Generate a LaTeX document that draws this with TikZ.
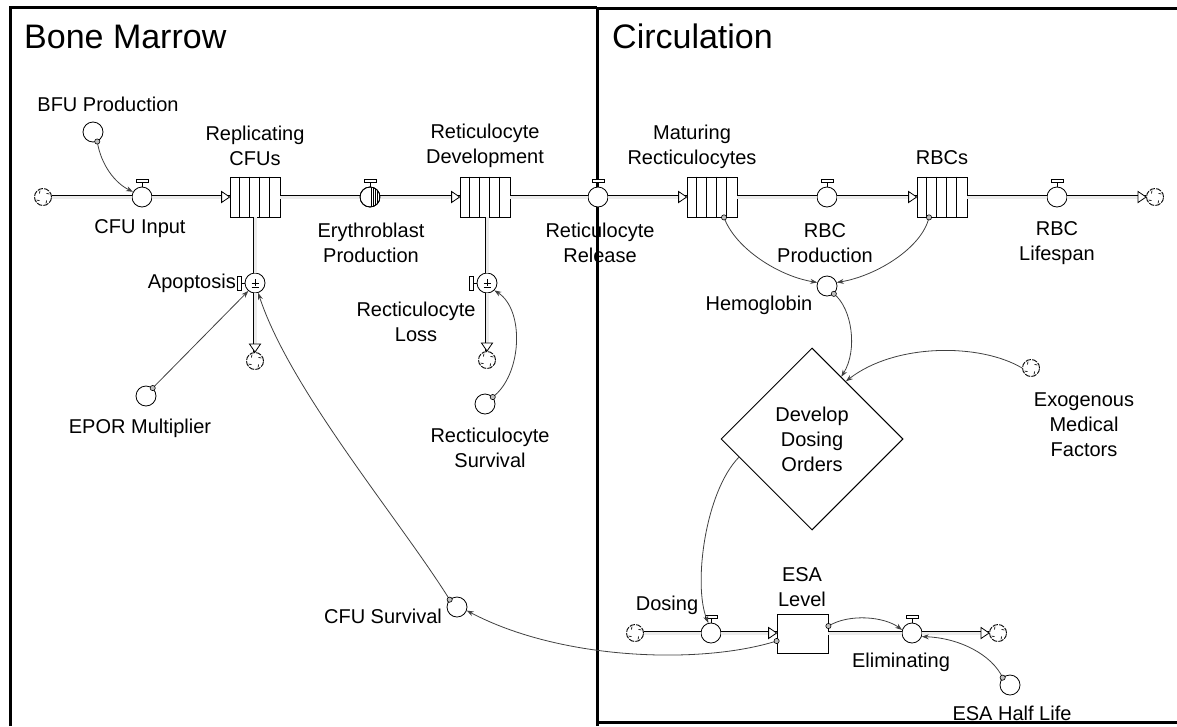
\documentclass[tikz,border=0pt]{standalone}
\usepackage{fontspec}
\setmainfont{Liberation Sans}
\usetikzlibrary{shapes.geometric,arrows.meta,calc}
\newcommand\vhandle[1]{\draw[line width=0.8pt] (#1.north) -- ++(0,-4);
  \draw[line width=0.8pt, fill=white] ($(#1.north)+(-6,-4)$) rectangle ++(12,-3.5);}
\newcommand\shandle[1]{\draw[line width=0.8pt] (#1.west) -- ++(-3.5,0);
  \draw[line width=0.8pt, fill=white] ($(#1.west)+(-3.5,-7)$) rectangle ++(-3.5,14);}
\newcommand\rtip[1]{\draw[line width=0.8pt, fill=white] (#1) -- ++(-8,-5.5) -- ++(0,11) -- cycle;}
\newcommand\dtip[1]{\draw[line width=0.8pt, fill=white] (#1) -- ++(-5.5,-8) -- ++(11,0) -- cycle;}
\newcommand\conveyor[1]{\foreach \i in {10,20,30,40} {\draw[line width=0.8pt] ($(#1.north west)+(\i,0)$) -- ($(#1.south west)+(\i,0)$);}}
\newcommand\pmsign[1]{\draw[line width=0.6pt] ($(#1.center)+(-3.5,0)$) -- ++(7,0) ($(#1.center)+(0,-4)$) -- ++(0,7) ($(#1.center)+(-3.5,4)$) -- ++(7,0);}
\newcommand\tailc[1]{\draw[line width=0.6pt, fill=black!25] (#1) circle (2.6pt);}
\newcommand\cloudin[1]{\foreach \a in {45,135,225,315} {\draw[line width=0.7pt] ($(#1.center)+(\a:5pt)$) arc[start angle=\a+180, end angle=\a+250, radius=2.5pt];}}
\begin{document}
\begin{tikzpicture}[x=1pt,y=-1pt,
  lab/.style={font=\fontsize{20}{25}\selectfont, align=center, inner sep=0pt},
  ttl/.style={font=\fontsize{34}{40}\selectfont, inner sep=0pt, anchor=base west},
  valve/.style={circle, draw, fill=white, minimum size=20pt, inner sep=0pt, line width=0.8pt},
  aux/.style={circle, draw, fill=white, minimum size=20pt, inner sep=0pt, line width=0.8pt},
  cloudnode/.style={draw, circle, minimum size=17pt, inner sep=0pt, line width=0.9pt, dash pattern=on 5.5pt off 1.2pt},
  stock/.style={draw, fill=white, minimum width=50pt, minimum height=40pt, inner sep=0pt, line width=0.8pt},
  pipe/.style={draw=black, line width=0.7pt, double=black!8, double distance=3pt},
  info/.style={draw=black!75, line width=0.8pt, -{Stealth[length=7pt,width=5pt]}},
  frame/.style={line width=3pt},
]
\useasboundingbox (0,0) rectangle (1177,726);
% frames
\draw[frame] (10,726) -- (10,7) -- (597,7);
\draw[frame] (597,726) -- (597,8) -- (1177,8);
\draw[frame] (597,722) -- (1177,722);
\node[ttl] (tbm) at (24,48) {Bone Marrow};
\node[ttl] (tci) at (612,48) {Circulation};

% main chain
\node[cloudnode] (c0) at (43,197) {};
\node[valve] (cfuin) at (142,197) {};
\node[stock] (rcfu) at (255,197) {};
\node[valve] (ery) at (370,197) {};
\node[stock] (rdev) at (485,197) {};
\node[valve] (rrel) at (598,197) {};
\node[stock] (mat) at (712,197) {};
\node[valve] (rbcp) at (827,197) {};
\node[stock] (rbcs) at (942,197) {};
\node[valve] (rbcl) at (1057,197) {};
\node[cloudnode] (c1) at (1155,197) {};

% side flows
\node[valve] (apop) at (255,283) {};
\node[cloudnode] (c2) at (255,361) {};
\node[valve] (rloss) at (487,283) {};
\node[cloudnode] (c3) at (487,360) {};

% auxiliaries
\node[aux] (bfu) at (93,132) {};
\node[aux] (epor) at (146,396) {};
\node[aux] (rsurv) at (485,404) {};
\node[aux] (cfusurv) at (457,607) {};
\node[aux] (hemo) at (827,286) {};
\node[cloudnode] (exo) at (1031,368) {};
\node[draw, diamond, aspect=1, minimum width=182pt, minimum height=182pt, inner sep=0pt, line width=1pt, lab] (ddo) at (812,439) {Develop\\Dosing\\Orders};
\node[aux] (esahl) at (1010,685) {};

% ESA chain
\node[cloudnode] (c4) at (635,633) {};
\node[valve] (dosing) at (711,633) {};
\node[draw, fill=white, minimum width=51pt, minimum height=39pt, inner sep=0pt, line width=0.8pt] (esa) at (802.5,634) {};
\node[valve] (elim) at (912,633) {};
\node[cloudnode] (c5) at (998,633) {};

\cloudin{c0}
\cloudin{c1}
\cloudin{c2}
\cloudin{c3}
\cloudin{c4}
\cloudin{c5}
\cloudin{exo}

% pipes
\draw[pipe] (c0) -- (cfuin);
\draw[pipe] (cfuin) -- (rcfu);
\draw[pipe] (rcfu) -- (ery);
\draw[pipe] (ery) -- (rdev);
\draw[pipe] (rdev) -- (rrel);
\draw[pipe] (rrel) -- (mat);
\draw[pipe] (mat) -- (rbcp);
\draw[pipe] (rbcp) -- (rbcs);
\draw[pipe] (rbcs) -- (rbcl);
\draw[pipe] (rbcl) -- (c1);
\draw[pipe] (rcfu.south) -- (apop);
\draw[pipe] (apop) -- (c2);
\draw[pipe] (rdev.south -| rloss) -- (rloss);
\draw[pipe] (rloss) -- (c3);
\draw[pipe] (c4) -- (dosing);
\draw[pipe] (dosing) -- (dosing -| esa.west);
\draw[pipe] (esa.east |- elim) -- (elim);
\draw[pipe] (elim) -- (c5);

\rtip{rcfu.west}
\rtip{rdev.west}
\rtip{mat.west}
\rtip{rbcs.west}
\rtip{c1.west}
\rtip{esa.west |- dosing}
\rtip{c5.west}
\dtip{c2.north}
\dtip{c3.north}

\conveyor{rcfu}
\conveyor{rdev}
\conveyor{mat}
\conveyor{rbcs}

% valve handles
\vhandle{cfuin}
\vhandle{ery}
\vhandle{rrel}
\vhandle{rbcp}
\vhandle{rbcl}
\vhandle{dosing}
\vhandle{elim}
\shandle{apop}
\shandle{rloss}
\pmsign{apop}
\pmsign{rloss}
\begin{scope}
  \clip (ery.center) circle (10pt);
  \clip ($(ery.center)+(0,-11)$) rectangle ($(ery.center)+(11,11)$);
  \foreach \i in {1,3,5,7,9} {\draw[line width=1pt] ($(ery.center)+(\i,-11)$) -- ++(0,22);}
\end{scope}
\draw[line width=0.8pt] (ery) circle (10pt);

% information connectors
\draw[info] (bfu.-66) .. controls (101,165) and (115,183) .. (cfuin.150);
\tailc{bfu.-66}
\draw[info] (epor.50) -- (apop.-130);
\tailc{epor.50}
\draw[info] (cfusurv.135) .. controls (400,520) and (290,390) .. (apop.-72);
\tailc{cfusurv.135}
\coordinate (esaL) at ($(esa.west)+(0,7)$);
\draw[info] (esaL) .. controls (700,665) and (560,660) .. (cfusurv.-20);
\tailc{esaL}
\draw[info] (rsurv.42) .. controls (522,375) and (525,310) .. (rloss.-45);
\tailc{rsurv.42}
\coordinate (matT) at ($(mat.south)+(12,0)$);
\draw[info] (matT) .. controls (735,248) and (778,276) .. (hemo.160);
\tailc{matT}
\coordinate (rbcT) at ($(rbcs.south)+(-13,0)$);
\draw[info] (rbcT) .. controls (922,248) and (876,276) .. (hemo.20);
\tailc{rbcT}
\coordinate (ddoA) at ($(ddo.north)!0.32!(ddo.east)$);
\coordinate (ddoB) at ($(ddo.north)!0.37!(ddo.east)$);
\draw[info] (hemo.-49) .. controls (852,308) and (858,350) .. (ddoA);
\tailc{hemo.-49}
\draw[info] (exo.west) .. controls (980,343) and (895,343) .. (ddoB);
\coordinate (ddoC) at ($(ddo.west)!0.2!(ddo.south)$);
\draw[info] (ddoC) .. controls (705,492) and (693,585) .. (dosing.105);
\coordinate (esaR) at ($(esa.east)+(0,-8)$);
\draw[info] (esaR) .. controls (850,613) and (885,617) .. (elim.163);
\tailc{esaR}
\draw[info] (esahl.135) .. controls (992,655) and (960,638) .. (elim.-20);
\tailc{esahl.135}

% labels
\node[lab] (lbfu) at (108,104) {BFU Production};
\node[lab] (lrcfu) at (255,146) {Replicating\\CFUs};
\node[lab] (lcfuin) at (140,229) {CFU Input};
\node[lab] (lery) at (371,243) {Erythroblast\\Production};
\node[lab] (lrdev) at (485,146) {Reticulocyte\\Development};
\node[lab] (lrrel) at (600,243) {Reticulocyte\\Release};
\node[lab] (lmat) at (692,147) {Maturing\\Recticulocytes};
\node[lab] (lrbcp) at (825,243) {RBC\\Production};
\node[lab] (lrbcs) at (942,158) {RBCs};
\node[lab] (lrbcl) at (1057,243) {RBC\\Lifespan};
\node[lab, anchor=east] (lapop) at (236,283) {Apoptosis};
\node[lab] (lrloss) at (416,322) {Recticulocyte\\Loss};
\node[lab] (lepor) at (140,428) {EPOR Multiplier};
\node[lab] (lrsurv) at (490,448) {Recticulocyte\\Survival};
\node[lab] (lhemo) at (759,305) {Hemoglobin};
\node[lab] (lexo) at (1084,425) {Exogenous\\Medical\\Factors};
\node[lab] (lcfus) at (383,616) {CFU Survival};
\node[lab] (ldos) at (667,605) {Dosing};
\node[lab] (lesa) at (802,587) {ESA\\Level};
\node[lab] (lelim) at (901,662) {Eliminating};
\node[lab] (lesahl) at (1012,713) {ESA Half Life};
\end{tikzpicture}
\end{document}
